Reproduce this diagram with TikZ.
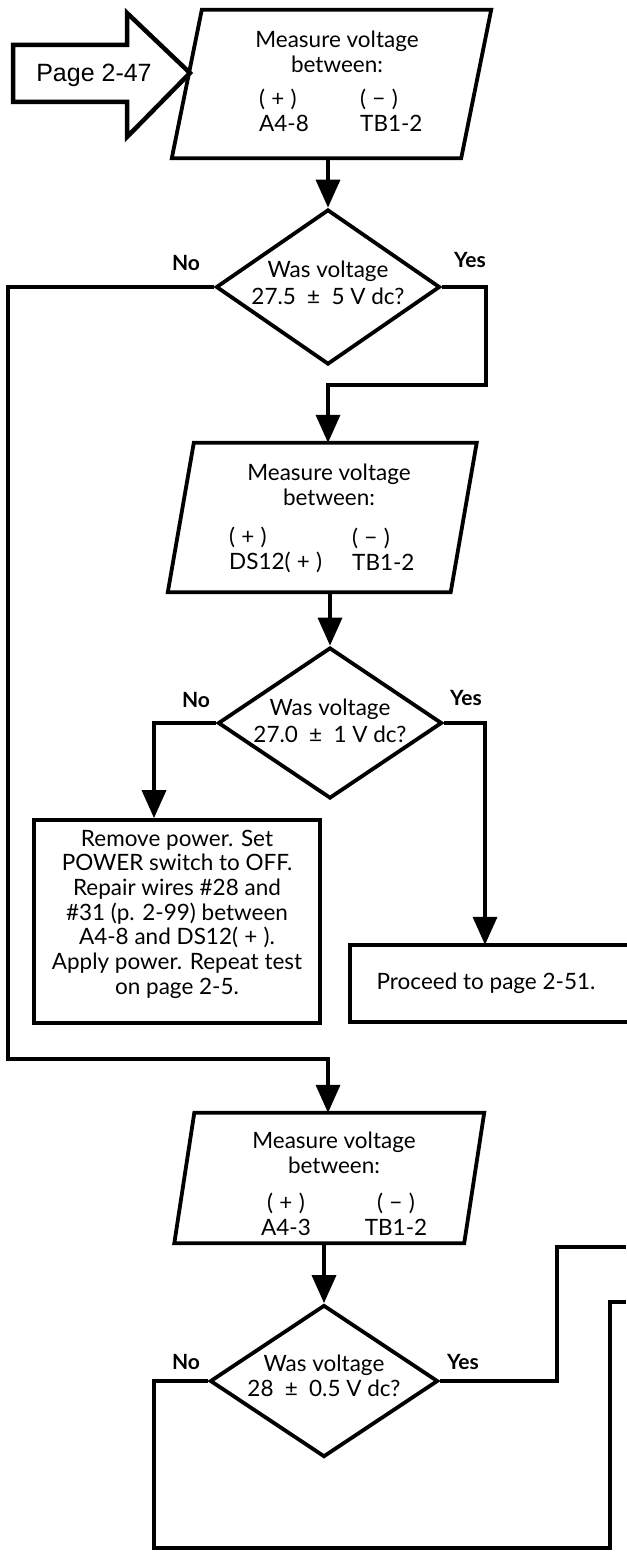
\documentclass[tikz,border=0pt]{standalone}
\usepackage{fontspec}
\setmainfont{Lato}
\newfontfamily\helv{Liberation Sans}
\usetikzlibrary{shapes.geometric,arrows.meta}
\begin{document}
\begin{tikzpicture}[x=1pt,y=-1pt,
  shapeline/.style={draw=black,line width=3.8pt,line join=miter},
  conn/.style={draw=black,line width=3.6pt,line join=miter},
  arr/.style={conn,-{Triangle[width=24pt,length=28pt]}},
  txt/.style={font=\fontsize{22.5}{25}\selectfont,align=center,inner sep=0pt},
  dtxt/.style={font=\fontsize{22.5}{27}\selectfont,align=center,inner sep=0pt},
  lbl/.style={font=\fontsize{21}{24}\selectfont\bfseries,inner sep=0pt},
  dia/.style={shape=diamond,shapeline,inner sep=0pt},
  box/.style={shape=rectangle,inner sep=0pt}]
\useasboundingbox (0,0) rectangle (626,1562);

% entry arrow
\draw[line width=4.5pt,line join=miter] (13,45) -- (127,45) -- (127,13) -- (190,73) -- (127,137) -- (127,102) -- (13,102) -- cycle;
\node[font=\helv\fontsize{25}{28}\selectfont,inner sep=0pt,anchor=base] (pg) at (94,82) {Page 2-47};

% parallelogram 1
\node[box,minimum width=289pt,minimum height=148pt] (m1) at (331.5,84) {};
\draw[shapeline] ([xshift=15pt]m1.north west) -- ([xshift=15pt]m1.north east) -- ([xshift=-15pt]m1.south east) -- ([xshift=-15pt]m1.south west) -- cycle;
\node[txt] (m1h) at (337,52) {Measure voltage\\between:};
\node[txt,align=left,anchor=west] (m1a) at (259,110) {(\;+\;)\\A4-8};
\node[txt,align=left,anchor=west] (m1b) at (360,110) {(\;−\;)\\TB1-2};

% diamond 1
\node[dia,minimum width=224pt,minimum height=155pt] (d1) at (328,287) {};
\node[dtxt] (d1t) at (328,283) {Was voltage\\27.5\enspace±\enspace5 V dc?};
\node[lbl] (d1no) at (186,263) {No};
\node[lbl] (d1yes) at (470,260) {Yes};

% parallelogram 2
\node[box,minimum width=282.5pt,minimum height=149pt] (m2) at (322.25,517.5) {};
\draw[shapeline] ([xshift=13pt]m2.north west) -- ([xshift=13pt]m2.north east) -- ([xshift=-13pt]m2.south east) -- ([xshift=-13pt]m2.south west) -- cycle;
\node[txt] (m2h) at (329,485) {Measure voltage\\between:};
\node[txt,align=left,anchor=west] (m2a) at (229,549.5) {(\;+\;)\\DS12(\;+\;)};
\node[txt,align=left,anchor=west] (m2b) at (352,549.5) {(\;−\;)\\TB1-2};

% diamond 2
\node[dia,minimum width=224pt,minimum height=151pt] (d2) at (330,723) {};
\node[dtxt] (d2t) at (330,721) {Was voltage\\27.0\enspace±\enspace1 V dc?};
\node[lbl] (d2no) at (196,700) {No};
\node[lbl] (d2yes) at (466,698) {Yes};

% remove-power box
\node[box,shapeline,minimum width=286pt,minimum height=203pt] (rm) at (177,921.5) {};
\node[font=\fontsize{22.5}{24.7}\selectfont,align=center,inner sep=0pt] (rmt) at (177,914) {Remove power. Set\\POWER switch to OFF.\\Repair wires \#28 and\\\#31 (p. 2-99) between\\A4-8 and DS12(\;+\;).\\Apply power. Repeat test\\on page 2-5.};

% proceed box (open to the right)
\node[box,minimum width=300pt,minimum height=77pt] (prb) at (500,983.5) {};
\draw[shapeline] (prb.north east) -- (prb.north west) -- (prb.south west) -- (prb.south east);
\node[txt] (prt) at (486,983) {Proceed to page 2-51.};

% parallelogram 3
\node[box,minimum width=289.5pt,minimum height=130pt] (m3) at (329.25,1178) {};
\draw[shapeline] ([xshift=10pt]m3.north west) -- ([xshift=10pt]m3.north east) -- ([xshift=-10pt]m3.south east) -- ([xshift=-10pt]m3.south west) -- cycle;
\node[txt] (m3h) at (334,1153) {Measure voltage\\between:};
\node[txt] (m3a) at (286,1214) {(\;+\;)\\A4-3};
\node[txt] (m3b) at (396,1214) {(\;−\;)\\TB1-2};

% diamond 3
\node[dia,minimum width=228pt,minimum height=152pt] (d3) at (324,1381) {};
\node[txt] (d3t) at (324,1376) {Was voltage\\28\enspace±\enspace0.5 V dc?};
\node[lbl] (d3no) at (186,1362) {No};
\node[lbl] (d3yes) at (463,1362) {Yes};

% connectors
\draw[arr] (m1.south -| d1.north) -- (d1.north);
\coordinate (j1) at (8,1059);
\draw[arr] (d1.west) -| (j1) -| (d1.center |- m3.north);
\coordinate (j2) at (486,385);
\draw[arr] (d1.east) -| (j2) -| (d1.center |- m2.north);
\draw[arr] (m2.south -| d2.north) -- (d2.north);
\draw[arr] (d2.west) -| ([xshift=-23pt]rm.north);
\draw[arr] (d2.east) -| ([xshift=-15pt]prb.north);
\draw[arr] (m3.south -| d3.north) -- (d3.north);
\coordinate (y3a) at (557,1247);
\coordinate (y3e) at (626,1247);
\draw[conn] (d3.east) -| (y3a) -- (y3e);
\coordinate (n3a) at (154,1548);
\coordinate (n3b) at (610,1302);
\coordinate (n3e) at (626,1302);
\draw[conn] (d3.west) -| (n3a) -| (n3b) -- (n3e);
\end{tikzpicture}
\end{document}
